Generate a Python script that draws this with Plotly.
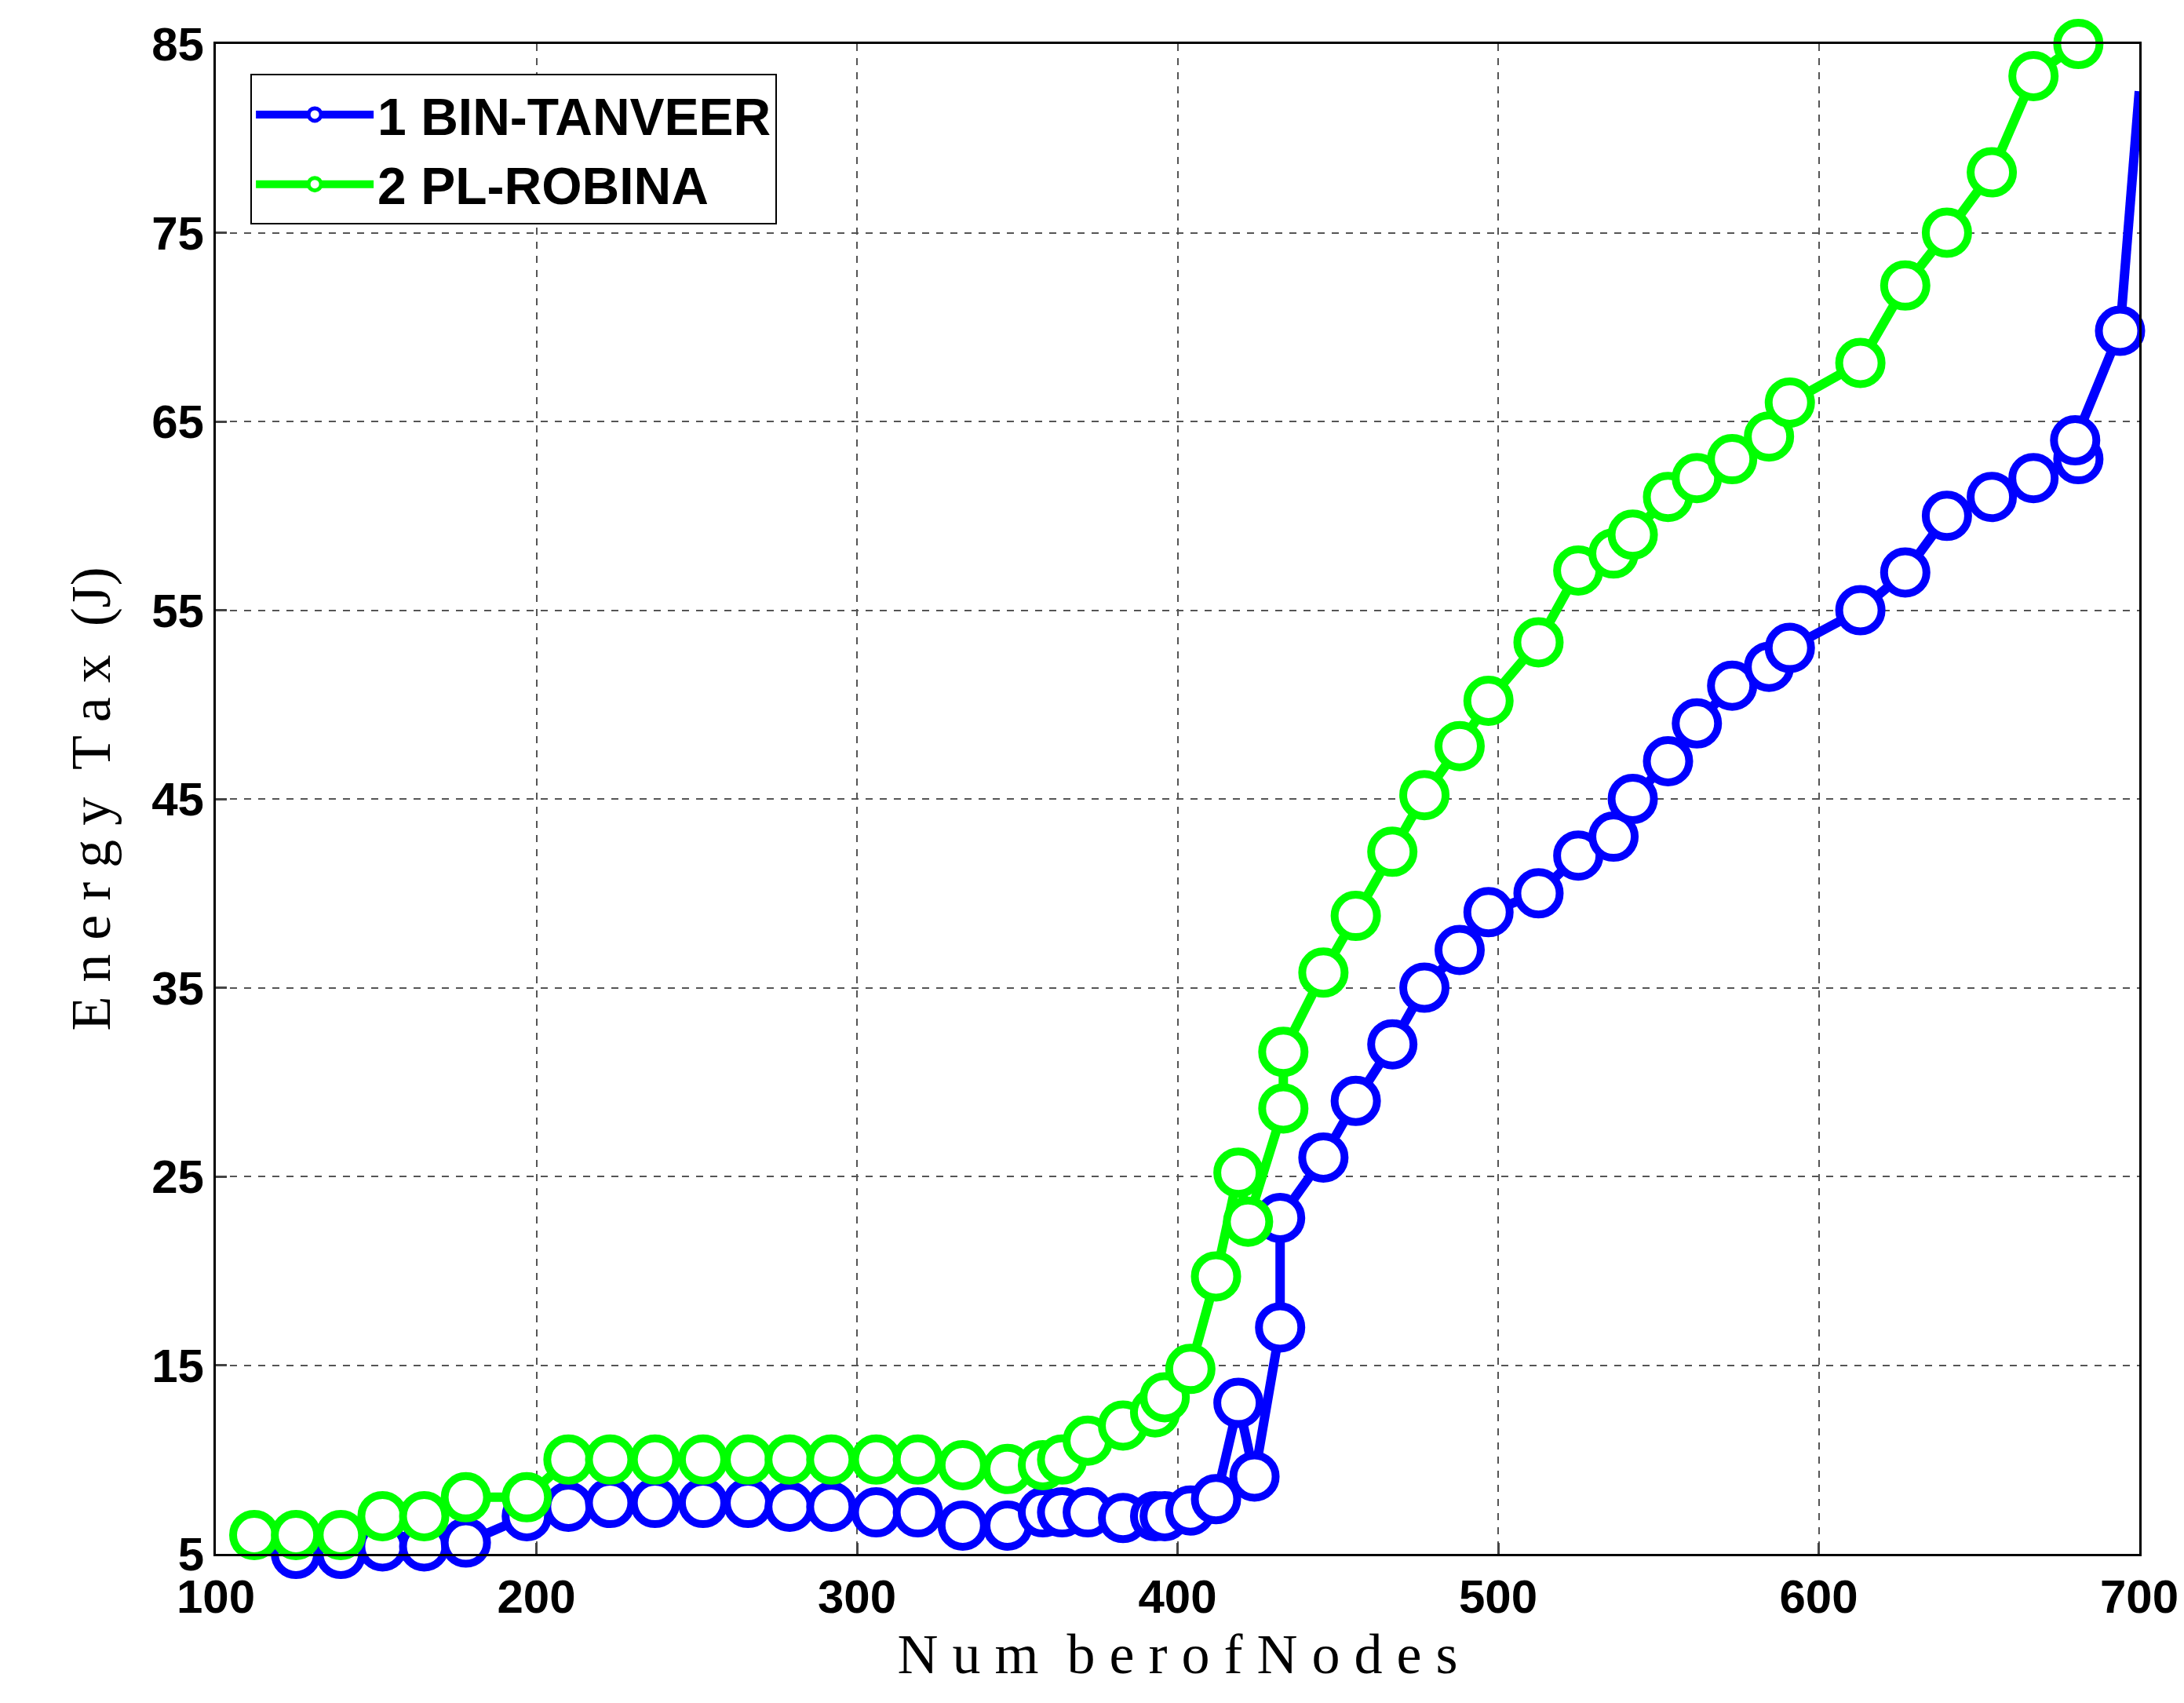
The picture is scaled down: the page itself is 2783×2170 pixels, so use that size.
import plotly.graph_objects as go

bx = [112,125,139,152,165,178,197,210,223,237,252,266,279,292,306,319,333,347,358,364,372,383,393,396,404,412,419,424,432,432,445.5,455.6,467,477,488,497,512.6,525,536,542,553,562,573,584.5,591,613,627,640,654,667,681,680,694,700]
by = [4.7,5,5,5.4,5.4,5.6,7,7.5,7.7,7.7,7.7,7.7,7.5,7.5,7.2,7.2,6.5,6.5,7.2,7.2,7.2,6.9,7,7,7.3,7.9,13,9.1,17,22.8,26,29,32,35,37,39,40,42,43,45,47,49,51,52,53,55,57,60,61,62,63,64,69.8,82.5]
gx = [112,125,139,152,165,178,197,210,223,237,252,266,279,292,306,319,333,347,358,364,372,383,393,396,404,412,419,422,433,433,445.5,455.6,467,477,488,497,512.6,525,536,542,553,562,573,584.5,591,613,627,640,654,667,681]
gy = [6,6,6,7,7,8,8,10,10,10,10,10,10,10,10,10,9.7,9.5,9.7,10,11,11.8,12.5,13.3,14.8,19.7,25.2,22.6,28.6,31.6,35.8,38.8,42.2,45.2,47.8,50.2,53.3,57.1,58,59,61,62,63,64.2,66,68.1,72.2,75,78.2,83.3,85]
yticks = [5,15,25,35,45,55,65,75,85]
xticks = [100,200,300,400,500,600,700]

fig = go.Figure()
# blue tail segment (line only, the last point has no marker)
fig.add_trace(go.Scatter(x=bx[-2:], y=by[-2:], mode="lines", showlegend=False,
    line=dict(color="#0000ff", width=12), cliponaxis=False))
fig.add_trace(go.Scatter(x=bx[:-1], y=by[:-1], mode="lines+markers", name="1 BIN-TANVEER",
    line=dict(color="#0000ff", width=12), cliponaxis=False,
    marker=dict(size=54, color="white", line=dict(color="#0000ff", width=10))))
fig.add_trace(go.Scatter(x=gx, y=gy, mode="lines+markers", name="2 PL-ROBINA",
    line=dict(color="#00ff00", width=12), cliponaxis=False,
    marker=dict(size=54, color="white", line=dict(color="#00ff00", width=10))))

grid = dict(showgrid=True, gridcolor="#555", griddash="dash", gridwidth=2,
            showline=True, linecolor="black", linewidth=3, mirror=True,
            ticks="inside", ticklen=14, tickwidth=3, zeroline=False,
            tickfont=dict(family="Arial", size=60, color="black", weight="bold"))
fig.update_xaxes(range=[100,700], tickvals=xticks, **grid,
    title=dict(text="N u m  b e r o f N o d e s", font=dict(family="Liberation Serif", size=72, color="black"), standoff=8))
fig.update_yaxes(range=[5,85], tickvals=yticks, **grid,
    title=dict(text="E n e r g y  T a x  (J)", font=dict(family="Liberation Serif", size=72, color="black"), standoff=30))
fig.update_layout(width=2783, height=2170, plot_bgcolor="white", paper_bgcolor="white",
    margin=dict(l=267, r=65, t=48, b=198),
    legend=dict(x=0.018, y=0.98, xanchor="left", yanchor="top", bgcolor="white",
        bordercolor="black", borderwidth=2, itemwidth=150, tracegroupgap=20,
        font=dict(family="Arial", size=66, color="black", weight="bold")))
fig.write_html("out.html")
